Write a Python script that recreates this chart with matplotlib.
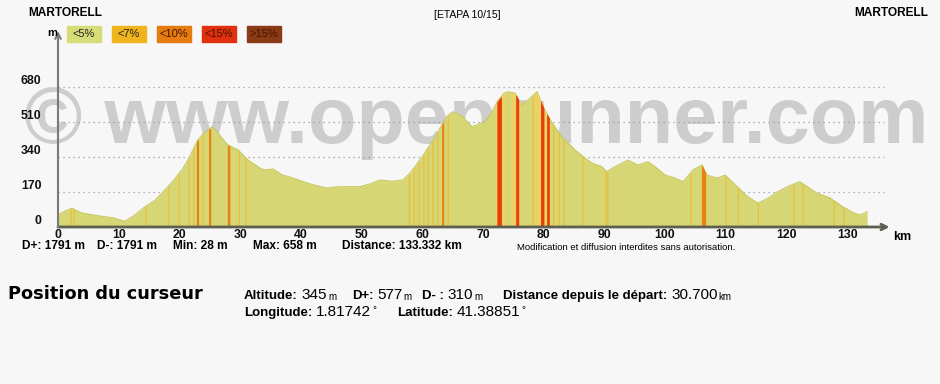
import numpy as np
import matplotlib
matplotlib.use('Agg')
import matplotlib.pyplot as plt
from matplotlib.patches import Rectangle

plt.rcParams['font.family'] = 'Liberation Sans'

# ── données du profil ────────────────────────────────────────────────────────
dist_km = [0, 1, 2.3, 3, 4, 5.5, 7.7, 9, 11, 12.5, 14.3, 16, 17.6, 19, 20.4,
           21.5, 23, 24, 25.4, 26, 27, 28, 29.7, 31.3, 33.3, 34, 35.4, 37,
           38.5, 40.4, 42, 44.3, 46, 47.6, 49.8, 51.5, 53, 55, 56.8, 58, 60,
           61.8, 64, 65, 66.5, 68.2, 70.3, 71.5, 72.5, 73.5, 74.1, 75.3, 76.4,
           77.4, 78.9, 80.2, 81.4, 83, 85.2, 86.8, 88, 89.6, 90.4, 91.3, 93.9,
           95.5, 97.2, 98.5, 100, 101.6, 103, 104.6, 106.1, 106.9, 108.6,
           109.9, 111.9, 113.5, 115.3, 117, 118.5, 120.5, 122.2, 125, 127.2,
           129.3, 131, 132.1, 133.3]
elev_m = [60, 75, 92, 80, 68, 60, 50, 45, 28, 55, 98, 130, 180, 225, 277,
          330, 422, 455, 487, 470, 432, 398, 374, 325, 286, 277, 282, 252,
          240, 220, 205, 189, 195, 196, 196, 210, 228, 222, 228, 262, 341,
          422, 535, 560, 540, 487, 511, 560, 616, 650, 657, 650, 592,
          616, 657, 568, 505, 438, 374, 335, 310, 293, 268, 286, 325,
          301, 317, 290, 252, 238, 220, 277, 301, 252, 238,
          252, 196, 150, 116, 140, 171, 200, 220, 165, 141,
          98, 70, 58, 74]

# tronçons de pente (début km, longueur km, classe 1:<7% 2:<10% 3:<15%)
seg_start = [72.0, 74.6, 78.3, 2.0, 2.5, 14.3, 18.1, 19.8, 21.4, 22.2, 22.8,
             23.7, 24.8, 27.9, 29.7, 30.8, 57.7, 58.5, 59.3, 60.1, 60.8, 61.6,
             62.4, 63.2, 64.1, 72.3, 75.4, 79.5, 80.5, 78.1, 81.5, 82.4, 83.2,
             86.3, 90.1, 90.4, 104.1, 106.0, 109.9, 111.9, 115.2, 121.1,
             122.6, 127.7, 129.3]
seg_len = [1.8, 1.6, 2.8, 0.2, 0.2, 0.2, 0.2, 0.2, 0.2, 0.2, 0.35,
           0.2, 0.35, 0.4, 0.2, 0.2, 0.25, 0.2, 0.2, 0.2, 0.2, 0.2,
           0.2, 0.35, 0.2, 0.75, 0.5, 0.55, 0.45, 0.2, 0.2, 0.2, 0.2,
           0.2, 0.2, 0.2, 0.2, 0.7, 0.2, 0.2, 0.2, 0.2,
           0.2, 0.2, 0.2]
seg_cls = [1, 1, 1, 1, 1, 1, 1, 1, 1, 1, 2,
           1, 2, 2, 1, 1, 1, 1, 1, 1, 1, 1,
           1, 2, 1, 3, 3, 3, 3, 1, 1, 1, 1,
           1, 1, 1, 1, 2, 1, 1, 1, 1,
           1, 1, 1]

legend_labels = ['<5%', '<7%', '<10%', '<15%', '>15%']
legend_colors = ['#d6dc78', '#f0b41c', '#e47c10', '#e0300e', '#8a3a14']
fill_colors = ['#d6d674', '#e9bf3c', '#e8820e', '#e4400c', '#8a3a14']

x_ticks = list(range(0, 131, 10))
y_ticks = [0, 170, 340, 510, 680]

# position du curseur : (x, y, libellé, valeur, unité)
cursor_items = [
    (244, 296, 'Altitude:', '345', 'm'),
    (352, 296, 'D+:', '577', 'm'),
    (422, 296, 'D- :', '310', 'm'),
    (503, 296, 'Distance depuis le d\u00e9part:', '30.700', 'km'),
    (244, 313, 'Longitude:', '1.81742', '\u00b0'),
    (397, 313, 'Latitude:', '41.38851', '\u00b0'),
]

W, H = 940, 384
BG = '#f7f7f7'

fig = plt.figure(figsize=(W / 100, H / 100), dpi=100, facecolor=BG)
rend = fig.canvas.get_renderer()


def fx(x):
    return x / W


def fy(y):
    return 1 - y / H


def T(x, y, s, **kw):
    kw.setdefault('va', 'center')
    return fig.text(fx(x), fy(y), s, **kw)


def right_px(t):
    return t.get_window_extent(rend).x1


# zone du graphique : 0 km -> x=58 px, 0 m -> y=227 px
px_km = 6.07
px_m = 35 / 170
left, right, bottom, top = 58, 890, 227, 30
ax = fig.add_axes([fx(left), fy(bottom), (right - left) / W, (bottom - top) / H])
ax.set_xlim(0, (right - left) / px_km)
ax.set_ylim(0, (bottom - top) / px_m)
ax.patch.set_alpha(0)
ax.set_zorder(2)
for sp in ax.spines.values():
    sp.set_visible(False)

# filigrane (derrière le profil)
fig.text(fx(24), fy(143), '\u00a9 www.openrunner.com', fontsize=57,
         fontweight='bold', color='#cdcdcd', va='baseline', ha='left',
         family='Liberation Sans', zorder=1)

# grille pointillée
for yv in y_ticks[1:]:
    ax.plot([0, 136], [yv, yv], color='#9a9a9a', lw=0.9,
            linestyle=(0, (1, 3)), zorder=1)

# profil
ax.fill_between(dist_km, 0, elev_m, color=fill_colors[0], lw=0, zorder=2)
ax.plot(dist_km, elev_m, color='#c8c860', lw=0.8, zorder=2)
for s, l, c in zip(seg_start, seg_len, seg_cls):
    xs = np.linspace(s, s + l, 6)
    ys = np.interp(xs, dist_km, elev_m)
    col = fill_colors[c]
    if c == 1 and l > 1:
        col = '#ecd266'
    ax.fill_between(xs, 0, ys, color=col, lw=0, zorder=3)

# axes
ax.annotate('', xy=(137, 0), xytext=(0, 0),
            arrowprops=dict(arrowstyle='->', color='#5f5f50', lw=2,
                            shrinkA=0, shrinkB=0), zorder=5)
ax.annotate('', xy=(0, (bottom - 31) / px_m), xytext=(0, 0),
            arrowprops=dict(arrowstyle='->', color='#7a7a7a', lw=1.5,
                            shrinkA=0, shrinkB=0), zorder=5)

ax.set_xticks(x_ticks)
ax.set_yticks(y_ticks)
ax.set_xticklabels([str(v) for v in x_ticks], fontsize=8.8, fontweight='bold')
ax.set_yticklabels([str(v) for v in y_ticks], fontsize=8.8, fontweight='bold',
                   va='bottom')
ax.tick_params(length=0, pad=1.5, colors='#111111')
ax.tick_params(axis='y', pad=12)

T(893, 237, 'km', fontsize=9, fontweight='bold')
T(47, 33, 'm', fontsize=8, fontweight='bold')

# légende
for i, (lab, col) in enumerate(zip(legend_labels, legend_colors)):
    x0 = 67 + i * 45
    fig.patches.append(Rectangle((fx(x0), fy(42)), 34 / W, 16 / H,
                                 transform=fig.transFigure, color=col))
    T(x0 + 17, 34, lab, fontsize=8, ha='center',
      color='#222222' if i < 2 else '#4a1400')

# en-têtes
T(28, 13, 'MARTORELL', fontsize=8.6, fontweight='bold')
T(928, 13, 'MARTORELL', fontsize=8.6, fontweight='bold', ha='right')
T(467, 15, '[ETAPA 10/15]', fontsize=7.5, ha='center')

# statistiques
stats = [(22, 'D+: 1791 m'), (97, 'D-: 1791 m'), (173, 'Min: 28 m'),
         (253, 'Max: 658 m'), (342, 'Distance: 133.332 km')]
for x, s in stats:
    T(x, 246, s, fontsize=8.6, fontweight='bold')
T(517, 247, 'Modification et diffusion interdites sans autorisation.',
  fontsize=6.8)

# position du curseur
T(8, 294, 'Position du curseur', fontsize=12.8, fontweight='bold',
  family='DejaVu Sans')

for x, y, lab, val, unit in cursor_items:
    t = T(x, y, lab, fontsize=9.5, fontweight='bold')
    xv = right_px(t) + 4
    t = T(xv, y - 1, val, fontsize=11)
    xu = right_px(t) + 1
    if unit == '\u00b0':
        T(xu, y - 3, unit, fontsize=7)
    else:
        T(xu, y + 1, unit, fontsize=7)

fig.savefig('out.png', dpi=100, facecolor=BG)
